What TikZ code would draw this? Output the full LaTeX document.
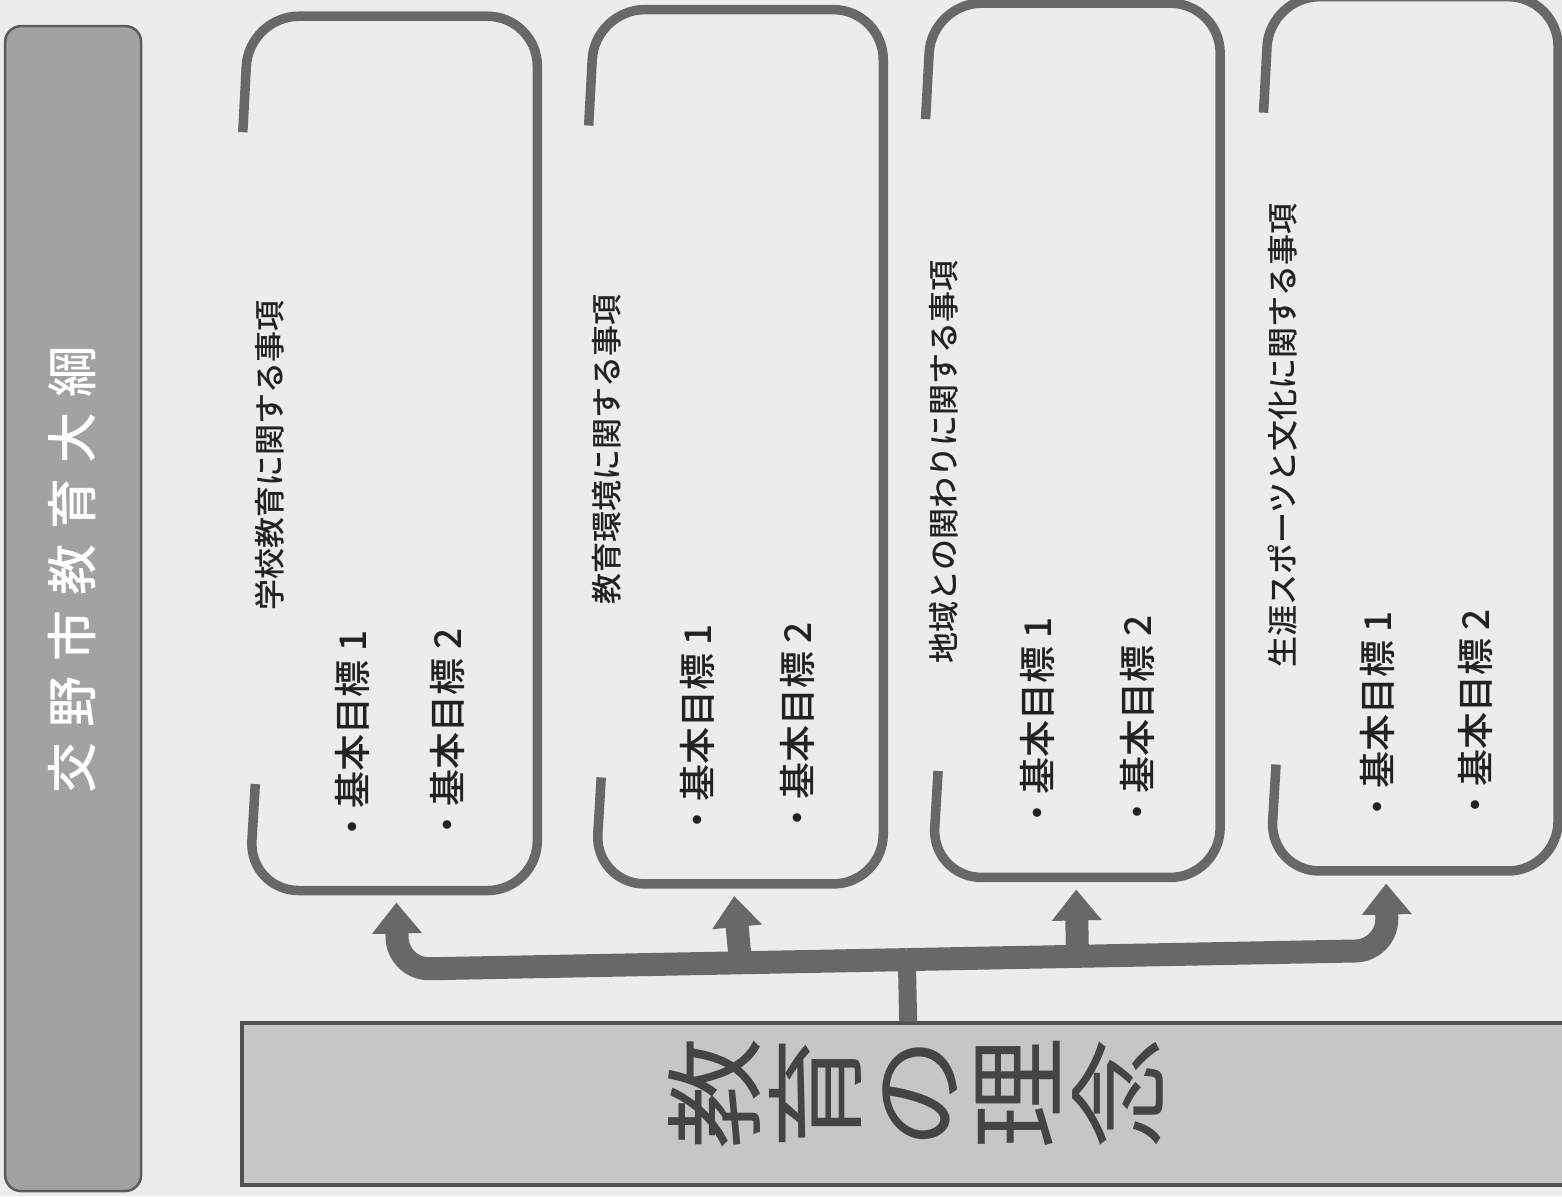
\documentclass[tikz,border=0pt]{standalone}
\usepackage{fontspec}
\usepackage{graphicx}
\newfontfamily\jp{Noto Sans CJK JP}
\newfontfamily\jpm{Noto Sans CJK JP Medium}
\usetikzlibrary{arrows.meta}
\definecolor{bg}{HTML}{ECECEC}
\definecolor{frame}{HTML}{686868}
\definecolor{titlefill}{HTML}{A2A2A2}
\definecolor{titleline}{HTML}{5C5C5C}
\definecolor{rectfill}{HTML}{C6C6C6}
\definecolor{rectline}{HTML}{505050}
\definecolor{ink}{HTML}{222222}
\definecolor{bigink}{HTML}{444444}
\newcommand{\wide}[1]{\scalebox{1.12}[1]{#1}}
\newcommand{\tg}{\hspace{15pt}}
\begin{document}
\begin{tikzpicture}[x=1pt,y=-1pt,
  box/.style={minimum width=288pt, minimum height=874pt, inner sep=0pt},
  boxframe/.style={draw=frame, line width=9.5pt, rounded corners=50pt, line cap=butt},
  conn/.style={draw=frame, line width=23pt, rounded corners=32pt, shorten >=12pt,
    -{Triangle[width=48pt,length=31pt]}},
  trunk/.style={draw=frame, line width=18pt},
  head/.style={rotate=90, inner sep=0pt, text=ink, font=\jpm\fontsize{31}{31}\selectfont},
  item/.style={rotate=90, anchor=west, inner sep=0pt, text=ink, font=\jpm\fontsize{37}{37}\selectfont}]
\fill[bg] (0,0) rectangle (1562,1196);
\useasboundingbox (0,0) rectangle (1562,1196);
\begin{scope}[rotate around={1.1:(781,598)}]
% left title bar
\node[fill=titlefill, draw=titleline, line width=2.5pt, rounded corners=16pt,
  minimum width=136pt, minimum height=1165pt, anchor=north west, inner sep=0pt] (title) at (15,10) {};
\node[rotate=90, inner sep=0pt, text=white, font=\jpm\fontsize{51}{51}\selectfont] (titletxt) at (title.center |- 0,556)
  {交\tg 野\tg 市\tg 教\tg 育\tg 大\tg 綱};
% bottom bar
\node[fill=rectfill, draw=rectline, line width=4pt, minimum width=1345pt, minimum height=162pt,
  anchor=north west, inner sep=0pt] (ideal) at (232,1011) {};
\node[rotate=90, inner sep=0pt, text=bigink, align=center,
  font=\jp\fontsize{100}{101}\selectfont] (idealtxt) at (906,1096)
  {\wide{教}\\\wide{育}\\\wide{の}\\\wide{理}\\\wide{念}};
% boxes
\coordinate (gt) at (0,122);
\coordinate (gb) at (0,774);
\node[box] (b1) at (396,446) {};
\node[box] (b2) at (742,446) {};
\node[box] (b3) at (1079,446) {};
\node[box] (b4) at (1417,446) {};
\foreach \b in {b1,b2,b3,b4}{
  \draw[boxframe] (\b.west |- gt) -- (\b.north west) -- (\b.north east)
    -- (\b.south east) -- (\b.south west) -- (\b.west |- gb);
}
% headings
\node[head] (h1) at (273,446) {学校教育に関する事項};
\node[head] (h2) at (610,446) {教育環境に関する事項};
\node[head] (h3) at (946,465) {地域との関わりに関する事項};
\node[head] (h4) at (1286,445) {生涯スポーツと文化に関する事項};
% items
\node[item] (i11) at (348,837) {・基本目標 1};
\node[item] (i12) at (443,837) {・基本目標 2};
\node[item] (i21) at (693,837) {・基本目標 1};
\node[item] (i22) at (793,837) {・基本目標 2};
\node[item] (i31) at (1033,837) {・基本目標 1};
\node[item] (i32) at (1133,837) {・基本目標 2};
\node[item] (i41) at (1373,837) {・基本目標 1};
\node[item] (i42) at (1471,837) {・基本目標 2};
% connectors
\coordinate (hub) at (900,962);
\draw[trunk] (ideal.north -| hub) -- (hub);
\draw[conn] (hub) -| ([xshift=3pt]b1.south);
\draw[conn] (hub) -| ([xshift=-28pt]b4.south);
\draw[conn] (b2.south |- hub) -- ([xshift=-6pt]b2.south);
\draw[conn] (b3.south |- hub) -- (b3.south);
\end{scope}
\end{tikzpicture}
\end{document}
